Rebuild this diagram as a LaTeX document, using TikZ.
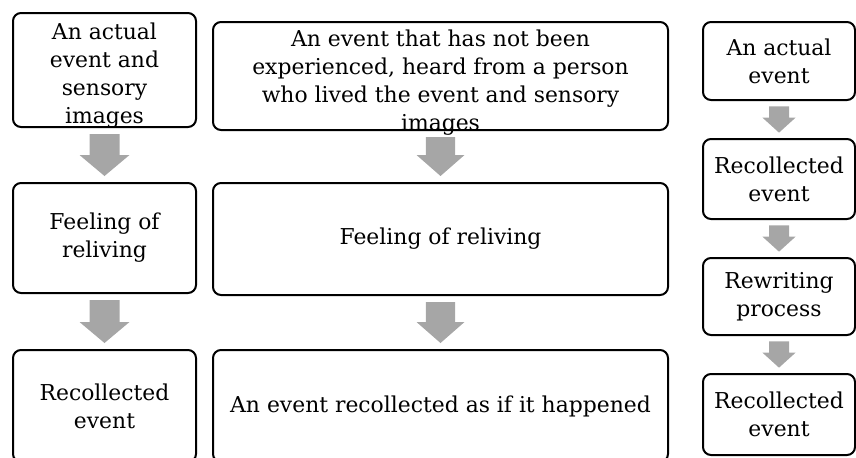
\documentclass[tikz,border=0pt]{standalone}
\usepackage{fontspec}
\setmainfont{DejaVu Serif}
\usetikzlibrary{calc}
\definecolor{arrowgray}{HTML}{A6A6A6}
\tikzset{
  boxfont/.style={font=\fontsize{16.4}{21}\selectfont},
  box/.style={draw=black, line width=1.5pt, rounded corners=6pt, fill=white,
    align=center, inner sep=0pt, boxfont},
  boxtext/.style={align=center, inner sep=0pt, boxfont},
  arrowfill/.style={fill=arrowgray, draw=none}
}
\newcommand\blockdown[6]{%
  \fill[arrowfill] let \p1=(#1.south), \p2=(#2.north) in
   (\x1-#3,\y1-#6) -- (\x1+#3,\y1-#6) -- (\x1+#3,\y2+#6+#5) -- (\x1+#4,\y2+#6+#5)
   -- (\x1,\y2+#6) -- (\x1-#4,\y2+#6+#5) -- (\x1-#3,\y2+#6+#5) -- cycle;}
\begin{document}
\begin{tikzpicture}[x=0.75pt,y=-0.75pt]
\useasboundingbox (0,0) rectangle (856,457);
\clip (0,0) rectangle (856,457);
% left column
\node[box, minimum width=183*0.75pt, minimum height=114*0.75pt] (L1) at (104.5,70) {};
\node[boxtext] (L1t) at (104.5,76) {An actual\\event and\\sensory\\images};
\node[box, minimum width=183*0.75pt, minimum height=110*0.75pt] (L2) at (104.5,238) {Feeling of\\reliving};
\node[box, minimum width=183*0.75pt, minimum height=112*0.75pt] (L3) at (104.5,406) {Recollected\\event};
% middle column
\node[box, minimum width=455*0.75pt, minimum height=108*0.75pt] (M1) at (440.5,76) {};
\node[boxtext] (M1t) at (440.5,83) {An event that has not been\\experienced, heard from a person\\who lived the event and sensory\\images};
\node[box, minimum width=455*0.75pt, minimum height=112*0.75pt] (M2) at (440.5,239) {Feeling of reliving};
\node[box, minimum width=455*0.75pt, minimum height=112*0.75pt] (M3) at (440.5,406) {An event recollected as if it happened};
% right column
\node[box, minimum width=152*0.75pt, minimum height=78*0.75pt] (R1) at (779,61) {An actual\\event};
\node[box, minimum width=152*0.75pt, minimum height=80*0.75pt] (R2) at (779,179) {Recollected\\event};
\node[box, minimum width=152*0.75pt, minimum height=77*0.75pt] (R3) at (779,296.5) {Rewriting\\process};
\node[box, minimum width=152*0.75pt, minimum height=81*0.75pt] (R4) at (779,414.5) {Recollected\\event};
% arrows
\blockdown{L1}{L2}{11.25pt}{18.75pt}{15.75pt}{4.5pt}
\blockdown{L2}{L3}{11.25pt}{18.75pt}{15.75pt}{4.5pt}
\blockdown{M1}{M2}{11pt}{18pt}{15.75pt}{4.5pt}
\blockdown{M2}{M3}{11pt}{18pt}{15.75pt}{4.5pt}
\blockdown{R1}{R2}{7.5pt}{12.4pt}{11.25pt}{4pt}
\blockdown{R2}{R3}{7.5pt}{12.4pt}{11.25pt}{4pt}
\blockdown{R3}{R4}{7.5pt}{12.4pt}{11.25pt}{4pt}
\end{tikzpicture}
\end{document}
